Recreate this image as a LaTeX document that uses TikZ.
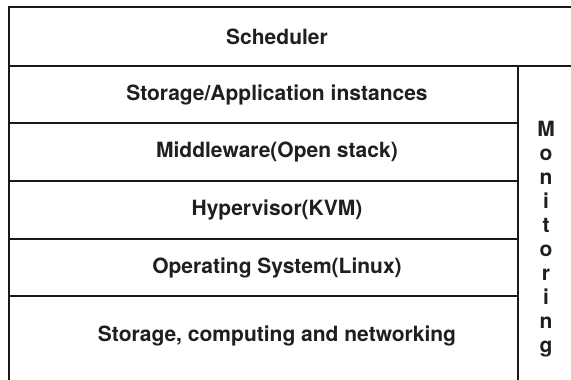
\documentclass[tikz,border=0pt]{standalone}
\usepackage{fontspec}
\setmainfont{TeX Gyre Heros}
\begin{document}
\begin{tikzpicture}[x=1pt,y=-1pt,
  frame/.style={draw=black!90, line width=2.5pt},
  layertext/.style={font=\bfseries\fontsize{21}{24}\selectfont, text=black!88, anchor=center, inner sep=0pt},
  montext/.style={font=\bfseries\fontsize{21}{24}\selectfont, text=black!88, align=center, inner sep=0pt}]
\useasboundingbox (0,0) rectangle (571,380);
\clip (0,0) rectangle (571,380);
\fill[white] (0,0) rectangle (571,380);
% outer frame
\draw[frame] (9,400) -- (9,7) -- (590,7);
\draw[frame] (9,66) -- (590,66);
\draw[frame] (518,66) -- (518,400);
\draw[frame] (9,123) -- (518,123);
\draw[frame] (9,181) -- (518,181);
\draw[frame] (9,239) -- (518,239);
\draw[frame] (9,296) -- (518,296);
% texts
\node[layertext] (sched) at (277,37) {Scheduler};
\node[layertext] (app) at (277,95) {Storage/Application instances};
\node[layertext] (mid) at (277,152) {Middleware(Open stack)};
\node[layertext] (hyp) at (277,210) {Hypervisor(KVM)};
\node[layertext] (os) at (277,268) {Operating System(Linux)};
\node[layertext] (hw) at (277,336) {Storage, computing and networking};
\node[montext] (mon) at (546,239) {M\\o\\n\\i\\t\\o\\r\\i\\n\\g};
\end{tikzpicture}
\end{document}
